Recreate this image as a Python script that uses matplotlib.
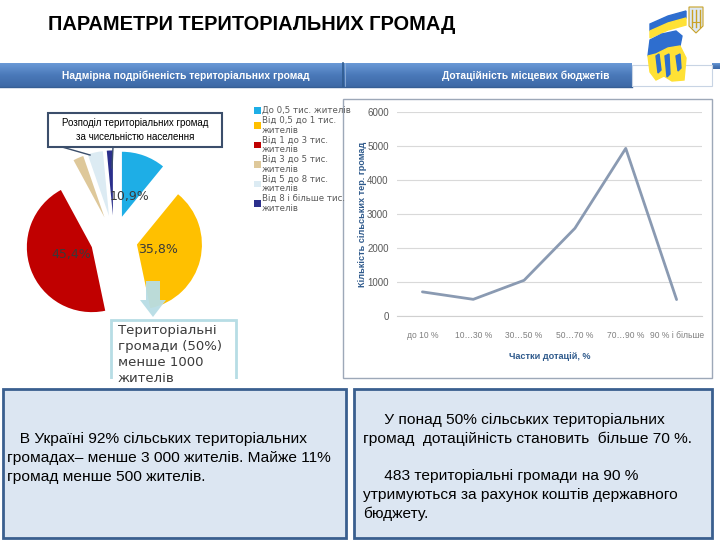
import matplotlib
matplotlib.use("Agg")
import matplotlib.pyplot as plt
import numpy as np
from matplotlib.patches import Rectangle, Polygon
from matplotlib.colors import LinearSegmentedColormap
from matplotlib import font_manager as fm

# ---------------- data ----------------
title = "ПАРАМЕТРИ ТЕРИТОРІАЛЬНИХ ГРОМАД"
header_left = "Надмірна подрібненість територіальних громад"
header_right = "Дотаційність місцевих бюджетів"

pie_categories = ["До 0,5 тис. жителів", "Від 0,5 до 1 тис. жителів",
                  "Від 1 до 3 тис. жителів", "Від 3 до 5 тис. жителів",
                  "Від 5 до 8 тис. жителів", "Від 8 і більше тис. жителів"]
pie_shares = [10.9, 35.8, 45.4, 2.6, 3.8, 1.5]
pie_colors = ["#1EAEE6", "#FFC000", "#C00000", "#DEC89A", "#DCEBF3", "#2B2F8C"]
pie_title = "Розподіл територіальних громад\nза чисельністю населення"
pie_note = "Територіальні\nгромади (50%)\nменше 1000\nжителів"

subsidy_categories = ["до 10 %", "10…30 %", "30…50 %", "50…70 %", "70…90 %", "90 % і більше"]
community_counts = [710, 490, 1050, 2580, 4930, 483]
y_ticks = [0, 1000, 2000, 3000, 4000, 5000, 6000]
y_label = "Кількість сільських тер. громад"
x_label = "Частки дотацій, %"

text_left = ("   В Україні 92% сільських територіальних\n"
             "громадах– менше 3 000 жителів. Майже 11%\n"
             "громад менше 500 жителів.")
text_right = ("     У понад 50% сільських територіальних\n"
              "громад  дотаційність становить  більше 70 %.\n"
              "\n"
              "     483 територіальні громади на 90 %\n"
              "утримуються за рахунок коштів державного\n"
              "бюджету.")

# ---------------- fonts ----------------
names = {f.name for f in fm.fontManager.ttflist}
NARROW = "Liberation Sans Narrow" if "Liberation Sans Narrow" in names else "Liberation Sans"
NARROW_SCALE = 1.0 if NARROW == "Liberation Sans Narrow" else 0.82
ARIAL = "Liberation Sans"

W, H = 720, 540
fig = plt.figure(figsize=(7.2, 5.4), dpi=100)
fig.patch.set_facecolor("white")

def px_axes(x, y, w, h, **kw):
    return fig.add_axes([x / W, 1 - (y + h) / H, w / W, h / H], **kw)

# background overlay
bg = fig.add_axes([0, 0, 1, 1], zorder=0)
bg.set_xlim(0, W); bg.set_ylim(H, 0); bg.axis("off")

# title
bg.text(48, 25, title, fontsize=14.4, fontweight="bold", family=ARIAL,
        color="black", va="center", ha="left")

# header bar gradient
cmap = LinearSegmentedColormap.from_list("hb", ["#6A99D6", "#4A79B9", "#3D69A6"])
grad = np.linspace(0, 1, 50).reshape(-1, 1)
bg.imshow(grad, extent=[0, 632, 87, 63], aspect="auto", cmap=cmap, zorder=1)
bg.imshow(grad, extent=[712, 720, 69, 63], aspect="auto", cmap=cmap, zorder=1)
bg.set_xlim(0, W); bg.set_ylim(H, 0)
bg.plot([343, 343], [63, 87], color="#2E5A8E", lw=1.2, zorder=2)
bg.plot([345, 345], [63, 87], color="#8FB0DA", lw=0.6, zorder=2)
bg.plot([0, 632], [87, 87], color="#365F95", lw=1, zorder=2)
bg.text(186, 76, header_left, fontsize=9 * NARROW_SCALE, fontweight="bold", family=NARROW,
        color="white", ha="center", va="center", zorder=3)
bg.text(526, 76, header_right, fontsize=9 * NARROW_SCALE, fontweight="bold", family=NARROW,
        color="white", ha="center", va="center", zorder=3)
bg.add_patch(Rectangle((632, 65), 80, 21, facecolor="white", edgecolor="#C8D4E4", lw=0.8, zorder=2))

# logo ribbon (approximate)
blue, yel = "#2E6ECF", "#FFE135"
bg.add_patch(Polygon([(650, 24), (668, 16), (686, 11), (686, 18), (668, 23), (650, 31)], color=blue, zorder=4))
bg.add_patch(Polygon([(650, 31), (668, 23), (686, 18), (686, 25), (668, 30), (650, 38)], color=yel, zorder=4))
bg.add_patch(Polygon([(650, 40), (662, 34), (676, 31), (682, 36), (680, 46), (668, 48), (656, 54), (648, 56)],
                     color=blue, zorder=4))
bg.add_patch(Polygon([(648, 56), (656, 54), (668, 48), (680, 46), (686, 58), (684, 80), (672, 81), (664, 76),
                      (656, 80), (650, 72)], color=yel, zorder=4))
for xs in [(656, 657, 659, 70), (665, 667, 668, 74), (676, 678, 679, 68)]:
    bg.add_patch(Polygon([(xs[0], 56), (xs[1] + 2, 54), (xs[2] + 2, xs[3]), (xs[2] - 1, xs[3] + 3)],
                         color=blue, zorder=5))
bg.add_patch(Polygon([(689, 7), (703, 7), (703, 26), (696, 33), (689, 26)], facecolor="#DDE8F5",
                     edgecolor="#C9A227", lw=0.8, zorder=4))
for x0 in (692, 696, 700):
    bg.plot([x0, x0], [10, 27], color="#C9A227", lw=1.0, zorder=5)
bg.plot([692, 700], [22, 22], color="#C9A227", lw=0.8, zorder=5)

# right panel frame
bg.add_patch(Rectangle((343, 99), 369, 279, facecolor="white", edgecolor="#9DA8B8", lw=1, zorder=1))

# bottom boxes
for (x0, w) in [(3, 343), (354, 358)]:
    bg.add_patch(Rectangle((x0, 389), w, 149, facecolor="#DCE6F2", edgecolor="#3A5F8F", lw=2, zorder=1))
body_fs = 13.6 * NARROW_SCALE
bg.text(7, 458, text_left, fontsize=body_fs, family=NARROW, color="black",
        ha="left", va="center", linespacing=1.42, zorder=3)
bg.text(363, 467, text_right, fontsize=body_fs, family=NARROW, color="black",
        ha="left", va="center", linespacing=1.42, zorder=3)

# legend (manual, from categories)
leg_y = [110.5, 125.5, 145, 164.5, 184, 203.5]
for cat, col, yc in zip(pie_categories, pie_colors, leg_y):
    lab = cat if len(cat) <= 19 else "\n".join(cat.rsplit(" ", 1))
    bg.add_patch(Rectangle((254, yc - 3.3), 6.6, 6.6, facecolor=col, edgecolor="none", zorder=3))
    bg.text(262, yc, lab, fontsize=6.2, family="DejaVu Sans", color="#595959",
            ha="left", va="center", linespacing=1.1, zorder=3)

# ---------------- pie ----------------
pax = px_axes(14, 139, 200, 200, zorder=1)

def pct_fmt(p):
    return (f"{p:.1f}%".replace(".", ",")) if p > 8 else ""

wedges, texts, autos = pax.pie(pie_shares, colors=pie_colors, startangle=90, counterclock=False,
                               radius=0.65, explode=[0.236] * len(pie_shares), autopct=pct_fmt,
                               pctdistance=0.33,
                               textprops=dict(fontsize=9, color="#3A3A3A", family="DejaVu Sans"))
pax.set_xlim(-1, 1); pax.set_ylim(-1, 1); pax.set_aspect("equal"); pax.axis("off")

# ---------------- line chart ----------------
lax = px_axes(397, 112, 305, 204, zorder=1)
lax.plot(range(len(community_counts)), community_counts, color="#8A9AB2", lw=2, solid_capstyle="round")
lax.set_xlim(-0.5, len(subsidy_categories) - 0.5)
lax.set_ylim(0, 6000)
lax.set_yticks(y_ticks)
lax.set_yticklabels([str(v) for v in y_ticks], fontsize=7, color="#595959", family=ARIAL)
lax.set_xticks(range(len(subsidy_categories)))
lax.set_xticklabels(subsidy_categories, fontsize=7.5 * NARROW_SCALE, color="#7F7F7F", family=NARROW)
lax.tick_params(axis="y", length=0, pad=6)
lax.tick_params(axis="x", length=0, pad=10.5)
lax.grid(axis="y", color="#D9D9D9", lw=0.8)
lax.set_axisbelow(True)
for s in ["top", "right", "left"]:
    lax.spines[s].set_visible(False)
lax.spines["bottom"].set_color("#D0D0D0")
lax.patch.set_alpha(0)
lax.set_ylabel(y_label, fontsize=8 * NARROW_SCALE, fontweight="bold", color="#2F5A8C", family=NARROW)
lax.yaxis.set_label_coords(-(397 - 367) / 305, 0.5)
lax.set_xlabel(x_label, fontsize=8 * NARROW_SCALE, fontweight="bold", color="#2F5A8C", family=NARROW)
lax.xaxis.set_label_coords(0.5, -(352 - 316) / 204)

# ---------------- foreground overlay ----------------
fg = fig.add_axes([0, 0, 1, 1], zorder=3)
fg.set_xlim(0, W); fg.set_ylim(H, 0); fg.axis("off"); fg.patch.set_alpha(0)

# callout box with tail
fg.add_patch(Rectangle((48, 113), 174, 34, facecolor="white", edgecolor="#3B4E6B", lw=1.5))
fg.text(135, 130, pie_title, fontsize=7, family=ARIAL, color="black", ha="center", va="center",
        linespacing=1.45)
fg.plot([62, 90], [147, 155], color="#3B4E6B", lw=1)
fg.plot([113, 112], [147, 168], color="#3B4E6B", lw=1)

# down arrow
fg.add_patch(Polygon([(146, 281), (160, 281), (160, 300), (166, 300), (153, 317), (140, 300), (146, 300)],
                     facecolor="#B8DDE5", edgecolor="none", alpha=0.95))

# note box clipped at panel bottom
clip = Rectangle((0, 0), 346, 379, transform=fg.transData)
nb = Rectangle((111, 320), 125, 80, facecolor="white", edgecolor="#B7DDE5", lw=2)
fg.add_patch(nb)
nb.set_clip_path(clip)
nt = fg.text(118, 324, pie_note, fontsize=9.5, family="DejaVu Sans", color="#3A3A3A",
             ha="left", va="top", linespacing=1.3)
nt.set_clip_path(clip)

fig.savefig("out.png", dpi=100)
